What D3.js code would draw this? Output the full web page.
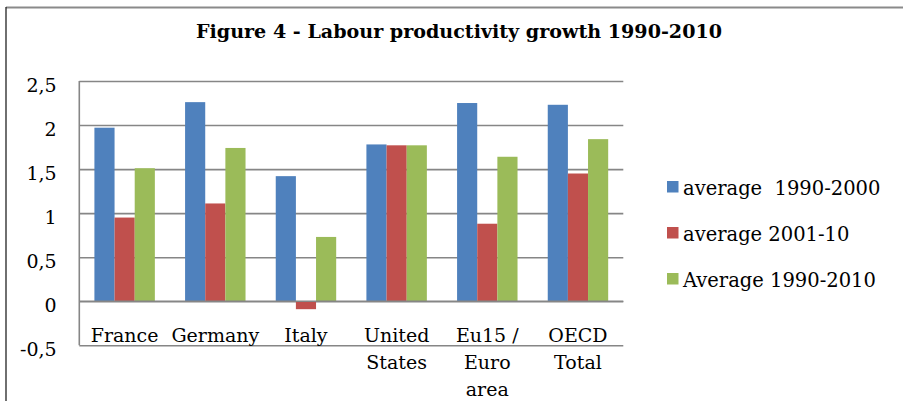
<!DOCTYPE html>
<html>
<head>
<meta charset="utf-8">
<script src="https://cdn.jsdelivr.net/npm/d3@7"></script>
<style>
  html, body { margin: 0; padding: 0; background: #fff; }
  svg { display: block; }
  text { font-family: "DejaVu Serif", serif; fill: #000; white-space: pre; }
</style>
</head>
<body>
<svg id="chart" width="903" height="401"></svg>
<script>
const title = "Figure 4 - Labour productivity growth 1990-2010";
const categories = ["France", "Germany", "Italy", "United States", "Eu15 / Euro area", "OECD Total"];
const seriesNames = ["average  1990-2000", "average 2001-10", "Average 1990-2010"];
const avg1990_2000 = [1.97, 2.26, 1.42, 1.78, 2.25, 2.23];
const avg2001_10   = [0.95, 1.11, -0.09, 1.77, 0.88, 1.45];
const avg1990_2010 = [1.51, 1.74, 0.73, 1.77, 1.64, 1.84];
const yTicks = [-0.5, 0, 0.5, 1, 1.5, 2, 2.5];
const colors = ["#4F81BD", "#C0504D", "#9BBB59"];

const seriesValues = [avg1990_2000, avg2001_10, avg1990_2010];
const svg = d3.select("#chart");

// chart border (top and left visible)
svg.append("line").attr("x1", 6).attr("x2", 903).attr("y1", 7.5).attr("y2", 7.5)
  .attr("stroke", "#8a8a8a").attr("stroke-width", 2);
svg.append("line").attr("x1", 6).attr("x2", 6).attr("y1", 7).attr("y2", 401)
  .attr("stroke", "#222").attr("stroke-width", 1.3);

// title
svg.append("text").attr("x", 459).attr("y", 38).attr("text-anchor", "middle")
  .attr("font-weight", "bold").attr("font-size", 19.1).text(title);

const plot = { left: 79.3, right: 623.3, top: 81, bottom: 345.3 };

const y = d3.scaleLinear().domain([-0.5, 2.5]).range([plot.bottom, plot.top]);
const x = d3.scaleBand().domain(categories).range([plot.left, plot.right]).padding(0);
const xs = d3.scaleBand().domain(seriesNames).range([0, x.bandwidth()]).paddingInner(0).paddingOuter(0.75);

const loc = d3.formatLocale({ decimal: ",", thousands: ".", grouping: [3], currency: ["", ""], minus: "-" });
const fmt = loc.format(".1~f");

// y axis with gridlines
const yAxis = d3.axisLeft(y).tickValues(yTicks).tickFormat(fmt)
  .tickSize(-(plot.right - plot.left)).tickPadding(22.6);
const gy = svg.append("g").attr("transform", `translate(${plot.left},0)`).call(yAxis);
gy.select(".domain").attr("stroke", "#868686").attr("stroke-width", 1.6)
  .attr("d", `M0,${plot.top}V${plot.bottom}`);
gy.selectAll(".tick line").attr("stroke", "#868686").attr("stroke-width", 1.6);
gy.selectAll(".tick text").attr("font-family", "DejaVu Serif, serif").attr("font-size", 19)
  .attr("dy", null).attr("y", 10.5).attr("fill", "#000");

// bars
const rows = categories.map((c, i) => ({ cat: c, vals: seriesValues.map((s, j) => ({ name: seriesNames[j], v: s[i], j })) }));
const groups = svg.append("g").selectAll("g").data(rows).join("g")
  .attr("transform", d => `translate(${x(d.cat)},0)`);
groups.selectAll("rect").data(d => d.vals).join("rect")
  .attr("x", d => xs(d.name))
  .attr("width", xs.bandwidth())
  .attr("y", d => y(Math.max(0, d.v)))
  .attr("height", d => Math.abs(y(d.v) - y(0)))
  .attr("fill", d => colors[d.j]);

// zero line over bar bases
svg.append("line").attr("x1", plot.left).attr("x2", plot.right).attr("y1", y(0)).attr("y2", y(0))
  .attr("stroke", "#868686").attr("stroke-width", 1.6);

// category labels with wrapping
const gx = svg.append("g");
const lineH = 27;
categories.forEach(c => {
  const cx = x(c) + x.bandwidth() / 2;
  const t = gx.append("text").attr("x", cx).attr("y", 341.5).attr("text-anchor", "middle").attr("font-size", 19);
  const words = c.split(" ");
  let lines = [];
  let cur = "";
  words.forEach(w => {
    const test = cur ? cur + " " + w : w;
    t.text(test);
    if (cur && t.node().getComputedTextLength() > x.bandwidth() - 2) {
      lines.push(cur); cur = w;
    } else cur = test;
  });
  lines.push(cur);
  t.text(null);
  lines.forEach((l, k) => t.append("tspan").attr("x", cx).attr("y", 341.5 + k * lineH).text(l));
});

// legend
const lg = svg.append("g");
seriesNames.forEach((n, j) => {
  const by = 195 + j * 46;
  lg.append("rect").attr("x", 667).attr("y", by - 14).attr("width", 11.5).attr("height", 11.5).attr("fill", colors[j]);
  lg.append("text").attr("x", 683).attr("y", by).attr("font-size", 19.5).text(n);
});
</script>
</body>
</html>
